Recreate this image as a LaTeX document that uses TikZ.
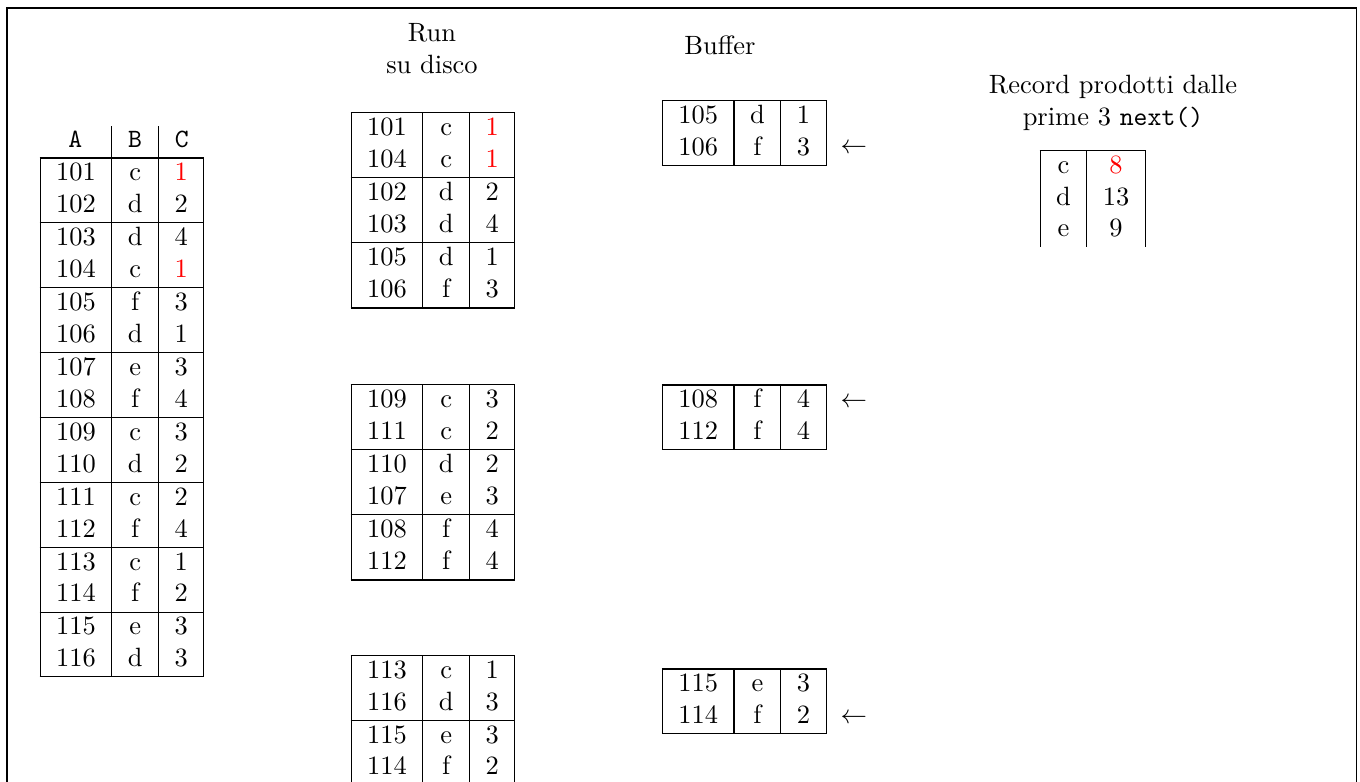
\documentclass[tikz,border=0pt]{standalone}
\usepackage{array}
\usepackage{tikz}

\newcolumntype{K}{w{c}{5.6pt}}
\newcommand{\rosso}[1]{\textcolor{red}{#1}}
\newcommand{\chiudi}{\noalign{\hrule height 0.8pt}}
\renewcommand{\arraystretch}{1.005}
\setlength{\tabcolsep}{5.85pt}

\begin{document}
\begin{tikzpicture}[
    tab/.style={inner sep=0pt, anchor=north west},
    tit/.style={align=center, inner sep=0pt},
    arr/.style={inner sep=0pt},
  ]
  \useasboundingbox (0,0) rectangle (18.068,-10.389);
  \clip (0,0) rectangle (18.068,-10.389);
  \draw (0.093,-0.106) rectangle (18.024,-11.0);

  % relazione di partenza
  \node[tab] (orig) at (0.518,-1.661) {\begin{tabular}{|c|K|c|}
    \multicolumn{1}{c|}{\texttt{A}} & \multicolumn{1}{c|}{\texttt{B}} & \multicolumn{1}{c}{\texttt{C}} \\ \hline
    101 & c & \rosso{1} \\ 102 & d & 2 \\ \hline
    103 & d & 4 \\ 104 & c & \rosso{1} \\ \hline
    105 & f & 3 \\ 106 & d & 1 \\ \hline
    107 & e & 3 \\ 108 & f & 4 \\ \hline
    109 & c & 3 \\ 110 & d & 2 \\ \hline
    111 & c & 2 \\ 112 & f & 4 \\ \hline
    113 & c & 1 \\ 114 & f & 2 \\ \hline
    115 & e & 3 \\ 116 & d & 3 \\ \hline
  \end{tabular}};

  % run su disco
  \node[tit] (trun) at (5.739,-0.645) {Run\\su disco};
  \node[tab] (run1) at (4.650,-1.484) {\begin{tabular}{|c|K|c|} \hline
    101 & c & \rosso{1} \\ 104 & c & \rosso{1} \\ \hline
    102 & d & 2 \\ 103 & d & 4 \\ \hline
    105 & d & 1 \\ 106 & f & 3 \\ \chiudi
  \end{tabular}};
  \node[tab] (run2) at (4.650,-5.095) {\begin{tabular}{|c|K|c|} \hline
    109 & c & 3 \\ 111 & c & 2 \\ \hline
    110 & d & 2 \\ 107 & e & 3 \\ \hline
    108 & f & 4 \\ 112 & f & 4 \\ \chiudi
  \end{tabular}};
  \node[tab] (run3) at (4.650,-8.692) {\begin{tabular}{|c|K|c|} \hline
    113 & c & 1 \\ 116 & d & 3 \\ \hline
    115 & e & 3 \\ 114 & f & 2 \\ \chiudi
  \end{tabular}};

  % buffer
  \node[tit] (tbuf) at (9.565,-0.598) {Buffer};
  \node[tab] (buf1) at (8.785,-1.319) {\begin{tabular}{|c|K|c|} \hline
    105 & d & 1 \\ 106 & f & 3 \\ \hline
  \end{tabular}};
  \node[tab] (buf2) at (8.785,-5.101) {\begin{tabular}{|c|K|c|} \hline
    108 & f & 4 \\ 112 & f & 4 \\ \hline
  \end{tabular}};
  \node[tab] (buf3) at (8.785,-8.874) {\begin{tabular}{|c|K|c|} \hline
    115 & e & 3 \\ 114 & f & 2 \\ \hline
  \end{tabular}};
  \node[arr] (pb1) at (11.345,-1.980) {$\leftarrow$};
  \node[arr] (pb2) at (11.345,-5.354) {$\leftarrow$};
  \node[arr] (pb3) at (11.345,-9.552) {$\leftarrow$};

  % output
  \node[tit] (trec) at (14.786,-1.369) {Record prodotti dalle\\prime 3 \texttt{next()}};
  \node[tab] (rec) at (13.803,-1.983) {\begin{tabular}{|K|c|} \hline
    c & \rosso{8} \\ d & 13 \\ e & 9
  \end{tabular}};
\end{tikzpicture}
\end{document}
